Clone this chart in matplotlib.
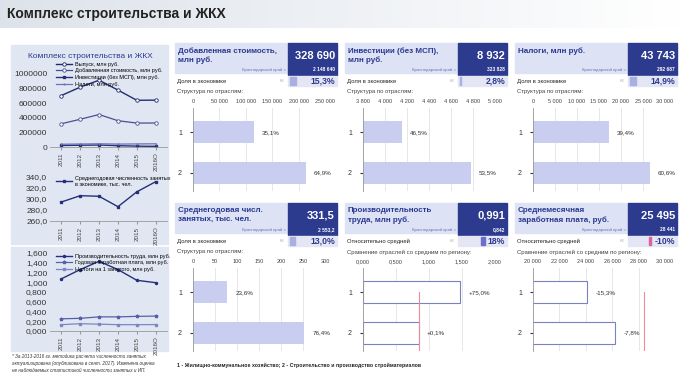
import numpy as np
import matplotlib
matplotlib.use("Agg")
import matplotlib.pyplot as plt
from matplotlib.patches import Rectangle
from matplotlib.ticker import FuncFormatter, MultipleLocator

plt.rcParams['font.family'] = ['Liberation Sans', 'DejaVu Sans']

# ---- data ----
years = ['2011', '2012', '2013', '2014', '2015', '2016О']
output = [705000, 820000, 915000, 780000, 640000, 642000]
gva = [318000, 380000, 445000, 360000, 328000, 328690]
invest = [21000, 24000, 27000, 18000, 12000, 8932]
taxes = [38000, 41000, 44000, 40000, 42000, 43743]
employed = [294.5, 306.0, 305.0, 286.0, 313.0, 331.5]
productivity = [1.07, 1.26, 1.43, 1.26, 1.04, 0.991]
annual_wage = [0.25, 0.26, 0.29, 0.29, 0.30, 0.306]
tax_per_worker = [0.13, 0.15, 0.14, 0.13, 0.13, 0.132]

kpi_titles = ["Добавленная стоимость,\nмлн руб.", "Инвестиции (без МСП),\nмлн руб.",
              "Налоги, млн руб.", "Среднегодовая числ.\nзанятых, тыс. чел.",
              "Производительность\nтруда, млн руб.", "Среднемесячная\nзаработная плата, руб."]
kpi_values = ["328 690", "8 932", "43 743", "331,5", "0,991", "25 495"]
region_values = ["2 148 640", "323 828", "292 687", "2 553,2", "0,842", "28 441"]
share_labels = ["Доля в экономике"] * 4 + ["Относительно средней"] * 2
share_values = ["15,3%", "2,8%", "14,9%", "13,0%", "18%", "-10%"]
share_fracs = [0.153, 0.028, 0.149, 0.130, 0.18, -0.10]
struct_titles = ["Структура по отраслям:"] * 4 + ["Сравнение отраслей со средним по региону:"] * 2
branches = ["1", "2"]
struct_vals = [[115370, 213320], [4153, 4779], [17235, 26508],
               [78.2, 253.3], [1.474, 0.843], [24090, 26223]]
bar_labels = [["35,1%", "64,9%"], ["46,5%", "53,5%"], ["39,4%", "60,6%"],
              ["23,6%", "76,4%"], ["+75,0%", "+0,1%"], ["-15,3%", "-7,8%"]]
x_ranges = [(0, 250000), (3800, 5000), (0, 30000), (0, 300), (0, 2), (20000, 30000)]
x_steps = [50000, 200, 5000, 50, 0.5, 2000]
region_avg = [None, None, None, None, 0.842, 28441]

W, H = 680, 387
fig = plt.figure(figsize=(W / 100, H / 100), dpi=100)


def px_axes(x, y, w, h):
    # axes placed by pixel box (top-left origin)
    return fig.add_axes([x / W, 1 - (y + h) / H, w / W, h / H])


def ru_int(v, pos=None):
    return f"{v:,.0f}".replace(",", " ")


def ru_dec(nd):
    return lambda v, pos=None: f"{v:.{nd}f}".replace(".", ",")


# ---- background layer ----
bg = px_axes(0, 0, W, H)
bg.set_xlim(0, W)
bg.set_ylim(H, 0)
bg.axis("off")
c1 = np.array([0.87, 0.89, 0.92])
c2 = np.array([1.0, 1.0, 1.0])
grad = np.linspace(0, 1, 256)[None, :, None]
bg.imshow(c1 + (c2 - c1) * grad, extent=(0, W, 28, 0), aspect="auto")
bg.text(7, 14, "Комплекс строительства и ЖКХ", fontsize=10, fontweight="bold",
        color="#222222", va="center")

# left panel
panel_bg = "#e1e7f2"
bg.add_patch(Rectangle((11, 45), 157, 122, color=panel_bg))
bg.add_patch(Rectangle((11, 168), 157, 76, color=panel_bg))
bg.add_patch(Rectangle((11, 247), 157, 104, color=panel_bg))
bg.text(90, 57, "Комплекс строительства и ЖКХ", fontsize=6, color="#2b3990",
        ha="center", va="center")
bg.text(12, 354, "* За 2013-2016 гг. методика расчета численности занятых\n"
        "актуализирована (опубликована в сент. 2017). Изменена оценка\n"
        "не наблюдаемых статистикой численности занятых и ИП.",
        fontsize=3.3, style="italic", color="#333333", va="top", linespacing=1.5)
bg.text(177, 365, "1 - Жилищно-коммунальное хозяйство; 2 - Строительство и производство стройматериалов",
        fontsize=3.8, fontweight="bold", color="#222222", va="center")


def style_left(ax, ylim, step, fmt):
    ax.set_facecolor("none")
    ax.set_xlim(-0.6, 5.6)
    ax.set_ylim(*ylim)
    ax.yaxis.set_major_locator(MultipleLocator(step))
    ax.yaxis.set_major_formatter(FuncFormatter(fmt))
    ax.set_xticks(range(len(years)))
    ax.set_xticklabels(years, rotation=90, fontsize=4.5, color="#444444")
    ax.tick_params(axis="y", length=0, labelsize=6, colors="#333333", pad=2)
    ax.tick_params(axis="x", length=2, color="#999999", pad=2)
    for s in ("top", "right", "left"):
        ax.spines[s].set_visible(False)
    ax.spines["bottom"].set_color("#999999")
    ax.spines["bottom"].set_linewidth(0.6)


x = np.arange(len(years))
ax1 = px_axes(50, 74, 117, 73)
style_left(ax1, (0, 1000000), 200000, lambda v, p: f"{v:.0f}")
ax1.plot(x, output, color="#1f2d6e", lw=1.0, marker="o", ms=2.5, mfc="white", mew=0.6,
         label="Выпуск, млн руб.")
ax1.plot(x, gva, color="#4a4f8f", lw=0.9, marker="o", ms=2.5, mfc="white", mew=0.6,
         label="Добавленная стоимость, млн руб.")
ax1.plot(x, invest, color="#25307a", lw=1.0, marker="s", ms=1.5,
         label="Инвестиции (без МСП), млн руб.")
ax1.plot(x, taxes, color="#6b72b5", lw=0.9, marker="|", ms=2,
         label="Налоги, млн руб.")
ax1.legend(loc="upper left", bbox_to_anchor=(0.03, 1.2), frameon=False, fontsize=4,
           handlelength=3, labelspacing=0.3, borderaxespad=0, handletextpad=0.4)

ax2 = px_axes(50, 177, 117, 44)
style_left(ax2, (260, 340), 20, ru_dec(1))
ax2.plot(x, employed, color="#25307a", lw=1.0, marker="s", ms=1.8,
         label="Среднегодовая численность занятых\nв экономике, тыс. чел.")
ax2.legend(loc="upper left", bbox_to_anchor=(0.03, 1.08), frameon=False, fontsize=4,
           handlelength=3, borderaxespad=0, handletextpad=0.4)

ax3 = px_axes(50, 253, 117, 78)
style_left(ax3, (0, 1.6), 0.2, ru_dec(3))
ax3.plot(x, productivity, color="#25307a", lw=1.0, marker="o", ms=1.5,
         label="Производительность труда, млн руб.")
ax3.plot(x, annual_wage, color="#5560a8", lw=0.9, marker="*", ms=2.5,
         label="Годовая заработная плата, млн руб.")
ax3.plot(x, tax_per_worker, color="#7d86c4", lw=0.9, marker="s", ms=1.5,
         label="Налоги на 1 занятого, млн руб.")
ax3.legend(loc="upper left", bbox_to_anchor=(0.03, 1.02), frameon=False, fontsize=4,
           handlelength=3, labelspacing=0.3, borderaxespad=0, handletextpad=0.4)

# ---- KPI panels ----
for i in range(6):
    col, row = i % 3, i // 3
    x0 = 175 + 170 * col
    y0 = 43 if row == 0 else 203

    bg.add_patch(Rectangle((x0, y0), 113, 30, color="#dde2f4"))
    bg.text(x0 + 3, y0 + 4, kpi_titles[i], fontsize=5.8, fontweight="bold",
            color="#2b3990", va="top", linespacing=1.35)
    bg.text(x0 + 111, y0 + 29, "Краснодарский край =", fontsize=3.2,
            color="#6b76b8", ha="right", va="bottom")
    bg.add_patch(Rectangle((x0 + 113, y0), 49, 32, color="#2d3b8e"))
    bg.text(x0 + 160, y0 + 13, kpi_values[i], fontsize=8, fontweight="bold",
            color="white", ha="right", va="center")
    bg.text(x0 + 160, y0 + 29, region_values[i], fontsize=3.5, fontweight="bold",
            color="white", ha="right", va="bottom")

    # share row
    bg.text(x0 + 2, y0 + 38, share_labels[i], fontsize=4.2, color="#222222", va="center")
    bg.text(x0 + 107, y0 + 38, "КК", fontsize=3, color="#aaaaaa", va="center", ha="center")
    bg.add_patch(Rectangle((x0 + 113, y0 + 33), 49, 10, color="#e4e6f4"))
    if row == 0 or region_avg[i] is None:
        bg.add_patch(Rectangle((x0 + 115, y0 + 34), share_fracs[i] * 40, 8, color="#a9afe0"))
    else:
        clr = "#6c6fc9" if share_fracs[i] > 0 else "#e0609f"
        bg.add_patch(Rectangle((x0 + 136, y0 + 34), share_fracs[i] * 22, 8, color=clr))
    bg.text(x0 + 160, y0 + 38, share_values[i], fontsize=6.2, fontweight="bold",
            color="#2b3990", ha="right", va="center")
    bg.text(x0 + 2, y0 + 49, struct_titles[i], fontsize=4.3, color="#444444", va="center")

    # bar chart
    ax = px_axes(x0 + 18, y0 + 65, 132, 83)
    ax.set_facecolor("white")
    ypos = np.arange(len(branches))
    if region_avg[i] is None:
        ax.barh(ypos, struct_vals[i], height=0.55, color="#c9cdf0", zorder=2)
    else:
        ax.barh(ypos, struct_vals[i], height=0.55, color="white", edgecolor="#7a80c0",
                linewidth=0.8, zorder=2)
        ax.plot([region_avg[i], region_avg[i]], [0, 1.45], color="#f08a9a", lw=0.8, zorder=3)
    for yy, v, lab in zip(ypos, struct_vals[i], bar_labels[i]):
        ax.annotate(lab, (v, yy), xytext=(6, 0), textcoords="offset points",
                    fontsize=4.5, color="#333333", va="center")
    ax.set_xlim(*x_ranges[i])
    ax.set_ylim(1.45, -0.6)
    ax.set_yticks(ypos)
    ax.set_yticklabels(branches)
    ax.xaxis.set_major_locator(MultipleLocator(x_steps[i]))
    if i == 4:
        ax.xaxis.set_major_formatter(FuncFormatter(ru_dec(3)))
    else:
        ax.xaxis.set_major_formatter(FuncFormatter(ru_int))
    ax.xaxis.tick_top()
    ax.tick_params(axis="x", length=0, labelsize=4, colors="#444444", pad=3)
    ax.tick_params(axis="y", length=2, labelsize=5, colors="#333333", pad=6)
    ax.grid(axis="x", color="#dddddd", lw=0.5, zorder=0)
    for s in ("top", "right", "bottom"):
        ax.spines[s].set_visible(False)
    ax.spines["left"].set_color("#999999")
    ax.spines["left"].set_linewidth(0.6)

fig.savefig("out.png", dpi=100)
